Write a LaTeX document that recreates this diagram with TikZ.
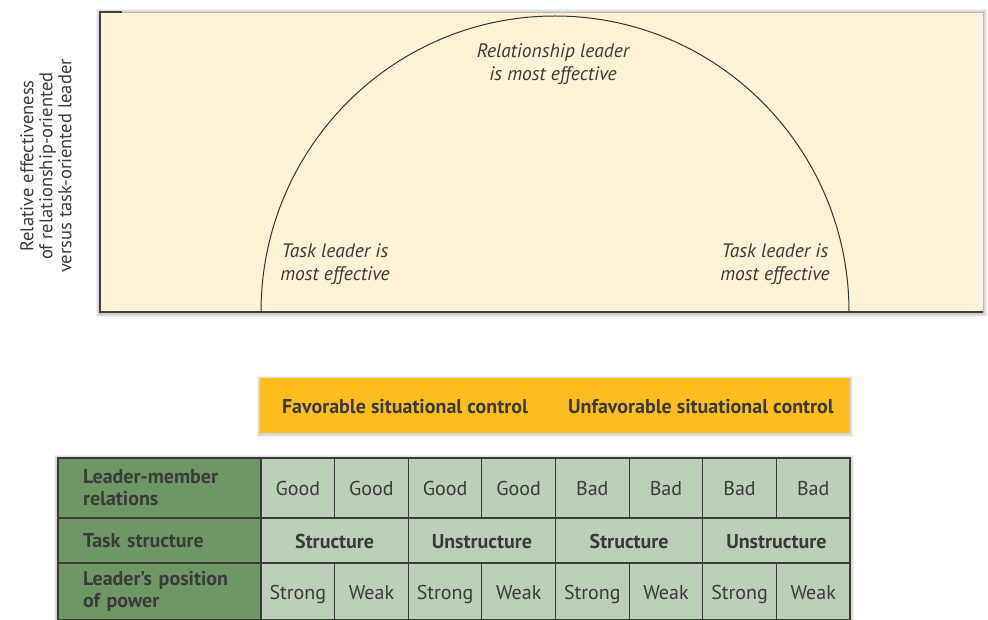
\documentclass[tikz,border=0pt]{standalone}
\usepackage{fontspec}
\setmainfont{PT Sans}
\usetikzlibrary{positioning}
\definecolor{cream}{HTML}{FFF2D6}
\definecolor{amber}{HTML}{FCBD1F}
\definecolor{darkleaf}{HTML}{6F9766}
\definecolor{paleleaf}{HTML}{BCCFB8}
\definecolor{ink}{HTML}{3A3A3A}
\begin{document}
\begin{tikzpicture}[
    x=1pt, y=-1pt,
    frame/.style={draw=gray!55, line width=0.8pt, fill=cream},
    axisline/.style={draw=black!75, line width=1.4pt},
    curve/.style={draw=black!80, line width=1pt},
    note/.style={font=\fontsize{19.5}{23}\selectfont\itshape, text=ink, align=center, inner sep=0pt},
    ylabel/.style={font=\fontsize{18.5}{19}\selectfont, text=ink, align=center, inner sep=0pt, rotate=90},
    bar/.style={fill=amber, minimum width=590pt, minimum height=55pt, inner sep=0pt, outer sep=0pt},
    barlabel/.style={font=\fontsize{20}{22}\selectfont\bfseries, text=ink, inner sep=0pt},
    rowhead/.style={draw=ink, line width=1.1pt, fill=darkleaf, text=ink, font=\fontsize{20}{22}\selectfont\bfseries,
                    text width=153pt, inner xsep=25pt, inner ysep=0pt, align=left, outer sep=0pt},
    cell/.style={draw=ink, line width=1.1pt, fill=paleleaf, text=ink, font=\fontsize{20}{22}\selectfont,
                 minimum width=73.625pt, text height=19pt, text depth=4pt, inner sep=0pt, outer sep=0pt},
    bigcell/.style={cell, minimum width=147.25pt, font=\fontsize{20}{22}\selectfont\bfseries},
    halo/.style={fill=black, opacity=0.06}
]
  \useasboundingbox (0,0) rectangle (988,620);
  % --- top panel: effectiveness curve ------------------------------------
  \foreach \s in {1,...,4} { \fill[halo] (100-\s, 12-\s+1) rectangle (983+\s, 312+\s+1); }
  \filldraw[frame] (100,12) rectangle (983,312);
  \draw[axisline] (122,12) -- (100,12) -- (100,312) -- (983,312);
  \draw[curve] (261,312) arc[start angle=180, end angle=0, x radius=294, y radius=-296];
  \node[note] (rel) at (553,64) {Relationship leader\\is most effective};
  \node[note] (taskl) at (335,264) {Task leader is\\most effective};
  \node[note] (taskr) at (775,264) {Task leader is\\most effective};
  \node[ylabel] (yaxis) at (46,166) {Relative effectiveness\\of relationship-oriented\\versus task-oriented leader};
  % --- situational control bar -------------------------------------------
  \foreach \s in {1,...,3} { \fill[halo] (260-\s, 378-\s+1) rectangle (850+\s, 433+\s+1); }
  \node[bar] (ctrl) at (555,405.5) {};
  \node[barlabel] (fav) at (405,407) {Favorable situational control};
  \node[barlabel] (unfav) at (701,407) {Unfavorable situational control};
  % --- situation table ----------------------------------------------------
  \foreach \s in {1,...,4} { \fill[halo] (58-\s, 458-\s+1) rectangle (850+\s, 620); }
  \node[rowhead, minimum height=60pt] (lmrhead) at (159.5,488) {Leader-member\\relations};
  \node[rowhead, minimum height=45pt] (tshead) at (159.5,540.5) {Task structure};
  \node[rowhead, minimum height=57pt] (powhead) at (159.5,591.5) {Leader’s position\\of power};
  \foreach \t [count=\i] in {Good,Good,Good,Good,Bad,Bad,Bad,Bad}
    \node[cell, minimum height=60pt] (lmr\i) at ({261+73.625*(\i-0.5)},488) {\t};
  \foreach \t [count=\i] in {Structure,Unstructure,Structure,Unstructure}
    \node[bigcell, minimum height=45pt] (ts\i) at ({261+147.25*(\i-0.5)},540.5) {\t};
  \foreach \t [count=\i] in {Strong,Weak,Strong,Weak,Strong,Weak,Strong,Weak}
    \node[cell, minimum height=57pt] (pow\i) at ({261+73.625*(\i-0.5)},591.5) {\t};
\end{tikzpicture}
\end{document}
